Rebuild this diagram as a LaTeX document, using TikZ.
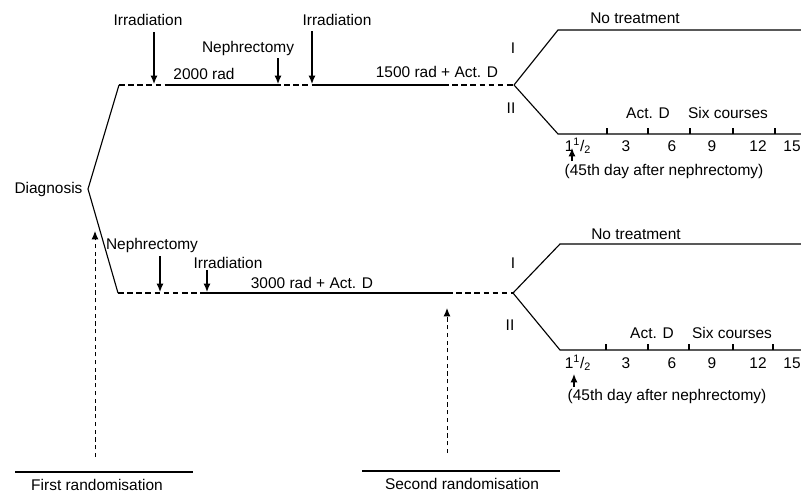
\documentclass[tikz,border=0pt]{standalone}
\usepackage{fontspec}
\setmainfont{Liberation Sans}
\usetikzlibrary{positioning,arrows.meta}

\begin{document}
\begin{tikzpicture}[x=0.025cm, y=-0.025cm, line width=0.8pt,
  font=\fontsize{11}{13}\selectfont,
  lbl/.style={inner sep=0pt},
  dsh/.style={dash pattern=on 4pt off 2.5pt},
  arr/.style={-{Latex[length=6pt,width=5pt]}},
  rnd/.style={line width=0.7pt, dash pattern=on 3pt off 2.5pt, -{Latex[length=6pt,width=5pt]}}]
\useasboundingbox (0,0) rectangle (801,493);

% Diagnosis
\node (diag) [lbl, anchor=east] at (83,189) {Diagnosis};
\coordinate (d0) at (88,189);
\coordinate (t0) at (119,85);
\coordinate (b0) at (118,293);
\draw (t0) -- (d0) -- (b0);

% Upper arm
\coordinate (t1) at (168,85);
\coordinate (t2) at (275,85);
\coordinate (t3) at (312,85);
\coordinate (t4) at (443,85);
\coordinate (t5) at (514,85);
\draw [dsh] (t0) -- (t1);
\draw (t1) -- (t2);
\draw [dsh] (t2) -- (t3);
\draw (t3) -- (t4);
\draw [dsh] (t4) -- (t5);

\node (irr1) [lbl] at (148,20) {Irradiation};
\node (nep1) [lbl] at (248,48) {Nephrectomy};
\node (irr2) [lbl] at (337,20) {Irradiation};
\node (rad1) [lbl] at (204,74) {2000 rad};
\node (rad2) [lbl] at (437,72) {1500 rad + Act. D};
\coordinate (a1s) at (154,32);
\coordinate (a1e) at (154,84);
\coordinate (a2s) at (278,58);
\coordinate (a2e) at (278,84);
\coordinate (a3s) at (312,31);
\coordinate (a3e) at (312,84);
\draw [arr] (a1s) -- (a1e);
\draw [arr] (a2s) -- (a2e);
\draw [arr] (a3s) -- (a3e);

% Upper second split
\coordinate (tI)   at (558,30);
\coordinate (tIe)  at (801,30);
\coordinate (tII)  at (558,134);
\coordinate (tIIe) at (801,134);
\draw (t5) -- (tI) -- (tIe);
\draw (t5) -- (tII) -- (tIIe);
\node (tno)  [lbl] at (635,18) {No treatment};
\node (tri)  [lbl] at (513,48) {I};
\node (trii) [lbl] at (511,108) {II};
\node (tact) [lbl] at (648,113) {Act. D};
\node (tsix) [lbl] at (728,113) {Six courses};

% Upper time scale
\draw (607,134) -- ++(0,-6);
\draw (648,134) -- ++(0,-6);
\draw (690,134) -- ++(0,-6);
\draw (733,134) -- ++(0,-6);
\draw (775,134) -- ++(0,-6);
\node (tm1) [lbl] at (578,146) {1\textsuperscript{1}/\textsubscript{2}};
\node (tm2) [lbl] at (626,146) {3};
\node (tm3) [lbl] at (672,146) {6};
\node (tm4) [lbl] at (712,146) {9};
\node (tm5) [lbl] at (758,146) {12};
\node (tm6) [lbl] at (792,146) {15};
\coordinate (tps) at (572,161);
\coordinate (tpe) at (572,148);
\draw [arr] (tps) -- (tpe);
\node (tday) [lbl] at (664,171) {(45th day after nephrectomy)};

% Lower arm
\coordinate (b1) at (206,293);
\coordinate (b2) at (447,293);
\coordinate (b3) at (513,293);
\draw [dsh] (b0) -- (b1);
\draw (b1) -- (b2);
\draw [dsh] (b2) -- (b3);

\node (nep2) [lbl] at (152,245) {Nephrectomy};
\node (irr3) [lbl] at (228,263) {Irradiation};
\node (rad3) [lbl] at (312,283) {3000 rad + Act. D};
\coordinate (a4s) at (160,256);
\coordinate (a4e) at (160,292);
\coordinate (a5s) at (207,270);
\coordinate (a5e) at (207,292);
\draw [arr] (a4s) -- (a4e);
\draw [arr] (a5s) -- (a5e);

% Lower second split
\coordinate (bI)   at (560,244);
\coordinate (bIe)  at (801,244);
\coordinate (bII)  at (560,350);
\coordinate (bIIe) at (801,350);
\draw (b3) -- (bI) -- (bIe);
\draw (b3) -- (bII) -- (bIIe);
\node (bno)  [lbl] at (636,234) {No treatment};
\node (bri)  [lbl] at (513,263) {I};
\node (brii) [lbl] at (510,325) {II};
\node (bact) [lbl] at (652,333) {Act. D};
\node (bsix) [lbl] at (732,333) {Six courses};

% Lower time scale
\draw (606,350) -- ++(0,-6);
\draw (648,350) -- ++(0,-6);
\draw (689,350) -- ++(0,-6);
\draw (733,350) -- ++(0,-6);
\draw (773,350) -- ++(0,-6);
\node (bm1) [lbl] at (578,363) {1\textsuperscript{1}/\textsubscript{2}};
\node (bm2) [lbl] at (626,363) {3};
\node (bm3) [lbl] at (672,363) {6};
\node (bm4) [lbl] at (712,363) {9};
\node (bm5) [lbl] at (758,363) {12};
\node (bm6) [lbl] at (792,363) {15};
\coordinate (bps) at (574,387);
\coordinate (bpe) at (574,374);
\draw [arr] (bps) -- (bpe);
\node (bday) [lbl] at (667,396) {(45th day after nephrectomy)};

% Randomisations
\coordinate (r1s) at (95,457);
\coordinate (r1e) at (95,231);
\coordinate (u1l) at (15,472);
\coordinate (u1r) at (193,472);
\draw [rnd] (r1s) -- (r1e);
\draw (u1l) -- (u1r);
\node (ran1) [lbl] at (97,485) {First randomisation};

\coordinate (r2s) at (447,453);
\coordinate (r2e) at (447,308);
\coordinate (u2l) at (362,471);
\coordinate (u2r) at (560,471);
\draw [rnd] (r2s) -- (r2e);
\draw (u2l) -- (u2r);
\node (ran2) [lbl] at (462,484) {Second randomisation};

\end{tikzpicture}
\end{document}
